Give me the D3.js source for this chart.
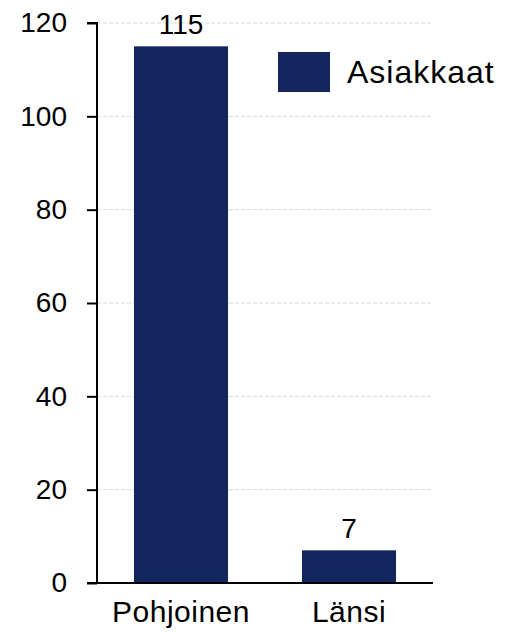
<!DOCTYPE html>
<html>
<head>
<meta charset="utf-8">
<script src="https://cdn.jsdelivr.net/npm/d3@7"></script>
<style>
  html, body { margin: 0; padding: 0; background: #fff; }
  svg { display: block; font-family: "Liberation Sans", Arial, sans-serif; }
</style>
</head>
<body>
<svg id="chart" width="506" height="632"></svg>
<script>
const categories = ["Pohjoinen", "Länsi"];
const values = [115, 7];
const seriesName = "Asiakkaat";
const yTicks = [0, 20, 40, 60, 80, 100, 120];

(function () {
const svg = d3.select("#chart");
const mLeft = 97, mRight = 433, mTop = 23, mBottom = 583;
const color = "#13275e";

const x = d3.scaleBand().domain(categories).range([mLeft, mRight]).padding(0);
const y = d3.scaleLinear().domain([0, 120]).range([mBottom, mTop]);

// gridlines
svg.append("g").selectAll("line").data(yTicks.filter(d => d > 0)).join("line")
  .attr("x1", mLeft).attr("x2", mRight)
  .attr("y1", d => y(d)).attr("y2", d => y(d))
  .attr("stroke", "#d9d9d9").attr("stroke-width", 1)
  .attr("stroke-dasharray", "4,2");

// bars
const barW = x.bandwidth() * 0.56;
svg.append("g").selectAll("rect").data(values).join("rect")
  .attr("x", (d, i) => x(categories[i]) + (x.bandwidth() - barW) / 2)
  .attr("y", d => y(d))
  .attr("width", barW)
  .attr("height", d => y(0) - y(d))
  .attr("fill", color);

// value labels
svg.append("g").selectAll("text").data(values).join("text")
  .attr("x", (d, i) => x(categories[i]) + x.bandwidth() / 2)
  .attr("y", d => y(d) - 12)
  .attr("text-anchor", "middle")
  .attr("font-size", 28)
  .attr("fill", "#000")
  .text(d => d);

// y axis
const yAxis = d3.axisLeft(y).tickValues(yTicks).tickSize(10).tickPadding(20);
const gy = svg.append("g").attr("transform", `translate(${mLeft},0)`).call(yAxis);
gy.select(".domain").attr("stroke", "#000").attr("stroke-width", 2).attr("d", `M-10,${mTop}H0V${mBottom}`);
gy.selectAll(".tick line").attr("stroke", "#000").attr("stroke-width", 2);
gy.selectAll(".tick text").attr("font-size", 28).attr("fill", "#000")
  .attr("font-family", "Liberation Sans, Arial, sans-serif");

// x axis
const xAxis = d3.axisBottom(x).tickSize(0).tickPadding(18);
const gx = svg.append("g").attr("transform", `translate(0,${mBottom})`).call(xAxis);
gx.select(".domain").attr("stroke", "#000").attr("stroke-width", 2).attr("d", `M${mLeft - 10},0H${mRight}`);
gx.selectAll(".tick text").attr("font-size", 30).attr("fill", "#000")
  .attr("font-family", "Liberation Sans, Arial, sans-serif")
  .attr("letter-spacing", 0.5);

// legend
const lg = svg.append("g");
lg.append("rect").attr("x", 278).attr("y", 52).attr("width", 52).attr("height", 40).attr("fill", color);
lg.append("text").attr("x", 347).attr("y", 83).attr("font-size", 32).attr("fill", "#000")
  .attr("letter-spacing", 1).text(seriesName);
})();
</script>
</body>
</html>
